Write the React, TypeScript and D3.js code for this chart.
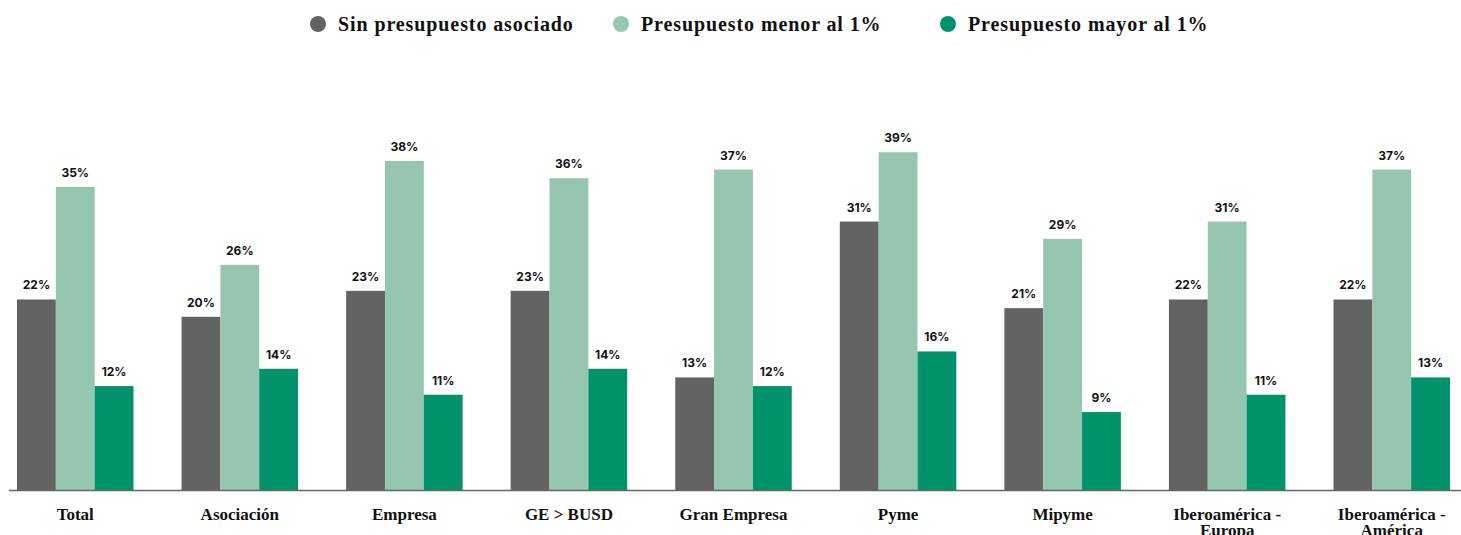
import React from "react";
import * as d3 from "d3";

const categories: string[][] = [
  ["Total"],
  ["Asociación"],
  ["Empresa"],
  ["GE > BUSD"],
  ["Gran Empresa"],
  ["Pyme"],
  ["Mipyme"],
  ["Iberoamérica -", "Europa"],
  ["Iberoamérica -", "América"],
];
const seriesNames = ["Sin presupuesto asociado", "Presupuesto menor al 1%", "Presupuesto mayor al 1%"];
const sinPresupuesto = [22, 20, 23, 23, 13, 31, 21, 22, 22];
const menorAl1 = [35, 26, 38, 36, 37, 39, 29, 31, 37];
const mayorAl1 = [12, 14, 11, 14, 12, 16, 9, 11, 13];
const colors = ["#636363", "#95c6b0", "#00926b"];

const W = 1461;
const H = 535;
const baseY = 490;
const legendX = [318, 621, 948];

export default function App() {
  const series = [sinPresupuesto, menorAl1, mayorAl1];
  const keys = categories.map((c) => c.join(" "));
  const x0 = d3.scaleBand<string>().domain(keys).range([17, 1450]).paddingInner(0.292).paddingOuter(0);
  const x1 = d3.scaleBand<number>().domain([0, 1, 2]).range([0, x0.bandwidth()]).padding(0);
  const y = d3.scaleLinear().domain([0, 40]).range([baseY, baseY - 346.4]);
  const serif = "'Liberation Serif', 'Times New Roman', serif";
  const sans = "Inter, 'DejaVu Sans', sans-serif";

  return (
    <svg width={W} height={H} style={{ position: "absolute", left: 0, top: 0, background: "#fff" }}>
      {/* legend */}
      {seriesNames.map((name, i) => (
        <g key={name} transform={`translate(${legendX[i]},24)`}>
          <circle r={8} fill={colors[i]} />
          <text x={20} y={7} fontFamily={serif} fontWeight={700} fontSize={20} letterSpacing={0.9} fill="#111">
            {name}
          </text>
        </g>
      ))}
      {/* bars */}
      {keys.map((k, ci) => (
        <g key={k} transform={`translate(${x0(k)},0)`}>
          {series.map((s, si) => (
            <g key={si}>
              <rect x={x1(si)} y={y(s[ci])} width={x1.bandwidth()} height={baseY - y(s[ci])} fill={colors[si]} />
              <text
                x={(x1(si) as number) + x1.bandwidth() / 2}
                y={y(s[ci]) - 10}
                textAnchor="middle"
                fontFamily={sans}
                fontWeight={700}
                fontSize={12}
                fill="#111"
              >
                {s[ci]}%
              </text>
            </g>
          ))}
        </g>
      ))}
      {/* axis line */}
      <line x1={9} x2={W} y1={baseY + 0.5} y2={baseY + 0.5} stroke="#666" strokeWidth={1.5} />
      {/* x labels */}
      {categories.map((lines, ci) => (
        <text
          key={ci}
          x={(x0(keys[ci]) as number) + x0.bandwidth() / 2}
          y={520}
          textAnchor="middle"
          fontFamily={serif}
          fontWeight={700}
          fontSize={17}
          fill="#111"
        >
          {lines.map((l, li) => (
            <tspan key={li} x={(x0(keys[ci]) as number) + x0.bandwidth() / 2} dy={li === 0 ? 0 : 16}>
              {l}
            </tspan>
          ))}
        </text>
      ))}
    </svg>
  );
}
